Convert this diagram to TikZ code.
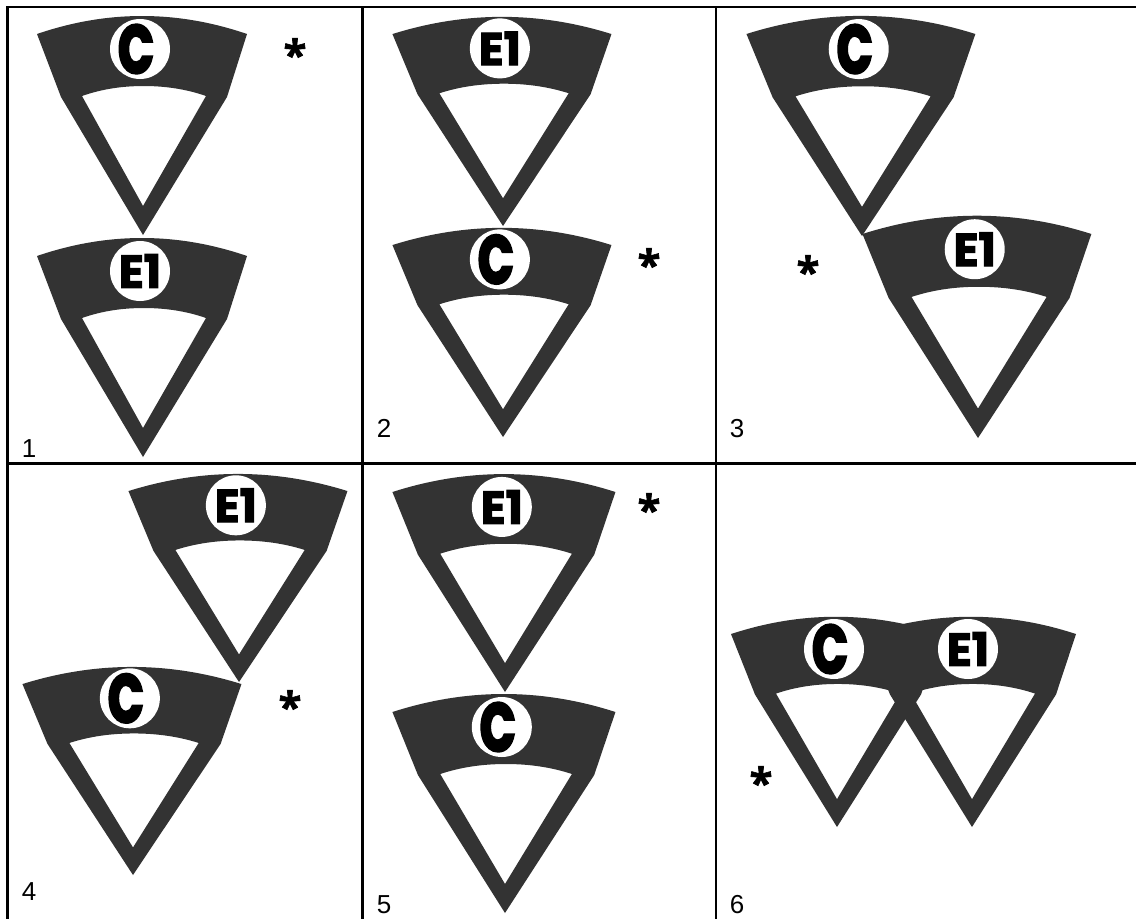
\documentclass[tikz,border=0pt]{standalone}
\usepackage{fontspec}
\setmainfont{Liberation Sans}
\newfontfamily\symfontC[FakeBold=4,FakeStretch=.68]{Poppins}
\newfontfamily\symfontE[FakeBold=2.5,FakeStretch=1]{Poppins}
\newfontfamily\starfont[FakeBold=1.5]{Open Sans}
\definecolor{band}{HTML}{333333}
\tikzset{
  bandfill/.style={fill=band,even odd rule,draw=none},
  ring/.style={circle,fill=white,draw=none,inner sep=0pt,minimum size=60pt},
  glyphC/.style={inner sep=0pt,text=black,font=\symfontC\bfseries\fontsize{68}{68}\selectfont},
  glyphE/.style={inner sep=0pt,text=black,font=\symfontE\bfseries\fontsize{46}{46}\selectfont},
  starmark/.style={inner sep=0pt,anchor=base,text=black,font=\starfont\bfseries\fontsize{42}{42}\selectfont},
  panelno/.style={inner sep=0pt,text=black,font=\fontsize{26}{26}\selectfont},
  gridline/.style={draw=black,line width=2.4pt}
}
\newcommand{\symshape}[4]{%
  \fill[bandfill,shift={(#1,#2)},xscale=#3,yscale=#4]
    (0,0) -- (-82,-138) -- (-106,-201)
    .. controls (-71,-213) and (-36,-219) .. (-1,-219)
    .. controls (34,-219) and (69,-213) .. (104,-201)
    -- (84,-138) -- cycle
    (0,-29) -- (-61,-139)
    .. controls (-41,-146) and (-21,-149) .. (1,-149)
    .. controls (22,-149) and (43,-146) .. (63,-139) -- cycle;}
\newcommand{\symC}[5]{% name tipx tipy xs ys
  \symshape{#2}{#3}{#4}{#5}
  \node[ring] (#1r) at ({#2-3*#4},{#3-186*#5}) {};
  \node[glyphC] (#1t) at ({#2-3*#4-4},{#3-186*#5}) {C};}
\newcommand{\symE}[5]{%
  \symshape{#2}{#3}{#4}{#5}
  \node[ring] (#1r) at ({#2-3*#4},{#3-186*#5}) {};
  \node[glyphE] (#1t) at ({#2-3*#4},{#3-186*#5}) {E1};}
\begin{document}
\begin{tikzpicture}[x=1pt,y=-1pt]
\useasboundingbox (0,0) rectangle (1136,919);
\fill[white] (0,0) rectangle (1136,919);
\draw[gridline] (6.3,7) -- (1136,7);
\draw[gridline] (6.3,463.5) -- (1136,463.5);
\draw[gridline] (7.5,7) -- (7.5,919);
\draw[gridline] (362.5,7) -- (362.5,919);
\draw[gridline] (716,7) -- (716,919);
\symC{a}{143}{235}{1}{1}
\symE{b}{143}{457}{1}{1}
\symE{c}{503}{226}{1.043}{.955}
\symC{d}{503}{437}{1.043}{.955}
\symC{e}{862}{236}{1.09}{1.005}
\symE{f}{978}{438}{1.09}{1.015}
\symE{g}{239}{682}{1.043}{.95}
\symC{h}{133}{875}{1.043}{.95}
\symE{i}{505}{692}{1.062}{.995}
\symC{j}{505}{913}{1.062}{1}
\symshape{837}{827}{1}{.96}
\symshape{972}{827}{1}{.96}
\node[ring] (kr) at (834,649) {};
\node[glyphC] (kt) at (830,649) {C};
\node[ring] (mr) at (968,649) {};
\node[glyphE] (mt) at (968,649) {E1};
\node[starmark] (s1) at (295,70) {*};
\node[starmark] (s2) at (649,280) {*};
\node[starmark] (s3) at (808,287) {*};
\node[starmark] (s4) at (290,722) {*};
\node[starmark] (s5) at (649,525) {*};
\node[starmark] (s6) at (761,798) {*};
\node[panelno] (n1) at (29,449) {1};
\node[panelno] (n2) at (384,428) {2};
\node[panelno] (n3) at (737,429) {3};
\node[panelno] (n4) at (29,892) {4};
\node[panelno] (n5) at (384,905) {5};
\node[panelno] (n6) at (737,905) {6};
\end{tikzpicture}
\end{document}
